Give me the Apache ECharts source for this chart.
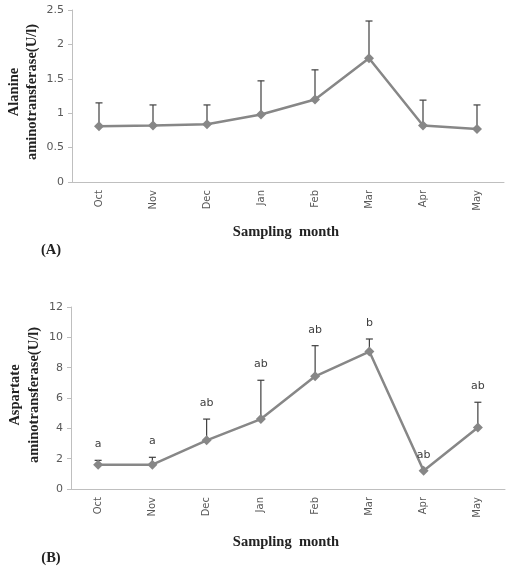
<!DOCTYPE html>
<html><head><meta charset="utf-8">
<script src="https://cdn.jsdelivr.net/npm/echarts@6/dist/echarts.min.js"></script>
<style>html,body{margin:0;padding:0;background:#fff}#c{width:510px;height:576px}</style>
</head><body><div id="c"></div>
<script>
const months = ['Oct','Nov','Dec','Jan','Feb','Mar','Apr','May'];
const altMean = [0.81, 0.82, 0.84, 0.98, 1.20, 1.80, 0.82, 0.77];
const altTop  = [1.15, 1.12, 1.12, 1.47, 1.63, 2.34, 1.19, 1.12];
const astMean = [1.60, 1.60, 3.21, 4.61, 7.43, 9.06, 1.21, 4.05];
const astTop  = [1.89, 2.09, 4.61, 7.17, 9.45, 9.89, null, 5.72];
const astLetters = ['a','a','ab','ab','ab','b','ab','ab'];
const altTicks = {min:0, max:2.5, interval:0.5};
const astTicks = {min:0, max:12, interval:2};

const chart = echarts.init(document.getElementById('c'), null, {renderer:'canvas'});
const LINE = '#878787', ERR = '#3f3f3f', AXIS = '#bfbfbf', TXT = '#595959';

function errSeries(idx, mean, top) {
  return {
    type:'custom', xAxisIndex:idx, yAxisIndex:idx, z:1,
    data: mean.map((m,i)=>[i, m, top[i]]),
    renderItem(params, api) {
      if (api.value(2) === null || isNaN(api.value(2))) return;
      const p0 = api.coord([api.value(0), api.value(1)]);
      const p1 = api.coord([api.value(0), api.value(2)]);
      const st = {stroke:ERR, lineWidth:1.2};
      return {type:'group', children:[
        {type:'line', shape:{x1:p0[0],y1:p0[1],x2:p1[0],y2:p1[1]}, style:st},
        {type:'line', shape:{x1:p1[0]-3.5,y1:p1[1],x2:p1[0]+3.5,y2:p1[1]}, style:st}
      ]};
    }
  };
}
function letterSeries(idx, mean, top, letters) {
  return {
    type:'custom', xAxisIndex:idx, yAxisIndex:idx, z:5,
    data: mean.map((m,i)=>[i, top[i]==null ? m : top[i]]),
    renderItem(params, api) {
      const p = api.coord([api.value(0), api.value(1)]);
      return {type:'text', style:{text:letters[params.dataIndex], x:p[0], y:p[1]-16,
        align:'center', verticalAlign:'middle', fill:'#404040', font:'11px "DejaVu Sans"'}};
    }
  };
}
function lineSeries(idx, mean) {
  return {type:'line', xAxisIndex:idx, yAxisIndex:idx, data:mean, z:3,
    symbol:'diamond', symbolSize:10, lineStyle:{color:LINE, width:2.5},
    itemStyle:{color:LINE}, animation:false};
}
function xAx(idx) {
  return {type:'category', gridIndex:idx, data:months, boundaryGap:true,
    axisLine:{lineStyle:{color:AXIS, width:1}}, axisTick:{show:false},
    axisLabel:{rotate:90, color:TXT, fontFamily:'DejaVu Sans', fontSize:10, margin:8}};
}
function yAx(idx, t) {
  return {type:'value', gridIndex:idx, min:t.min, max:t.max, interval:t.interval,
    splitLine:{show:false},
    axisLine:{show:true, lineStyle:{color:AXIS, width:1}},
    axisTick:{show:true, length:4, lineStyle:{color:AXIS}},
    axisLabel:{color:TXT, fontFamily:'DejaVu Sans', fontSize:11, margin:8}};
}
const titleFont = 'bold 14.5px "Liberation Serif"';
chart.setOption({
  animation:false,
  grid:[{left:72, right:6, top:10, height:172}, {left:71, right:5, top:307, height:182}],
  xAxis:[xAx(0), xAx(1)],
  yAxis:[yAx(0, altTicks), yAx(1, astTicks)],
  series:[errSeries(0, altMean, altTop), lineSeries(0, altMean),
          errSeries(1, astMean, astTop), lineSeries(1, astMean),
          letterSeries(1, astMean, astTop, astLetters)],
  graphic:[
    {type:'text', x:23, y:92, rotation:Math.PI/2, style:{text:'Alanine\naminotransferase(U/l)',
      align:'center', verticalAlign:'middle', lineHeight:18, font:titleFont, fill:'#222'}},
    {type:'text', x:25, y:395, rotation:Math.PI/2, style:{text:'Aspartate\naminotransferase(U/l)',
      align:'center', verticalAlign:'middle', lineHeight:19, font:titleFont, fill:'#222'}},
    {type:'text', x:286, y:232, style:{text:'Sampling  month', align:'center', verticalAlign:'middle', font:titleFont, fill:'#222'}},
    {type:'text', x:286, y:542, style:{text:'Sampling  month', align:'center', verticalAlign:'middle', font:titleFont, fill:'#222'}},
    {type:'text', x:51, y:250, style:{text:'(A)', align:'center', verticalAlign:'middle', font:titleFont, fill:'#222'}},
    {type:'text', x:51, y:558, style:{text:'(B)', align:'center', verticalAlign:'middle', font:titleFont, fill:'#222'}}
  ]
});
</script></body></html>
